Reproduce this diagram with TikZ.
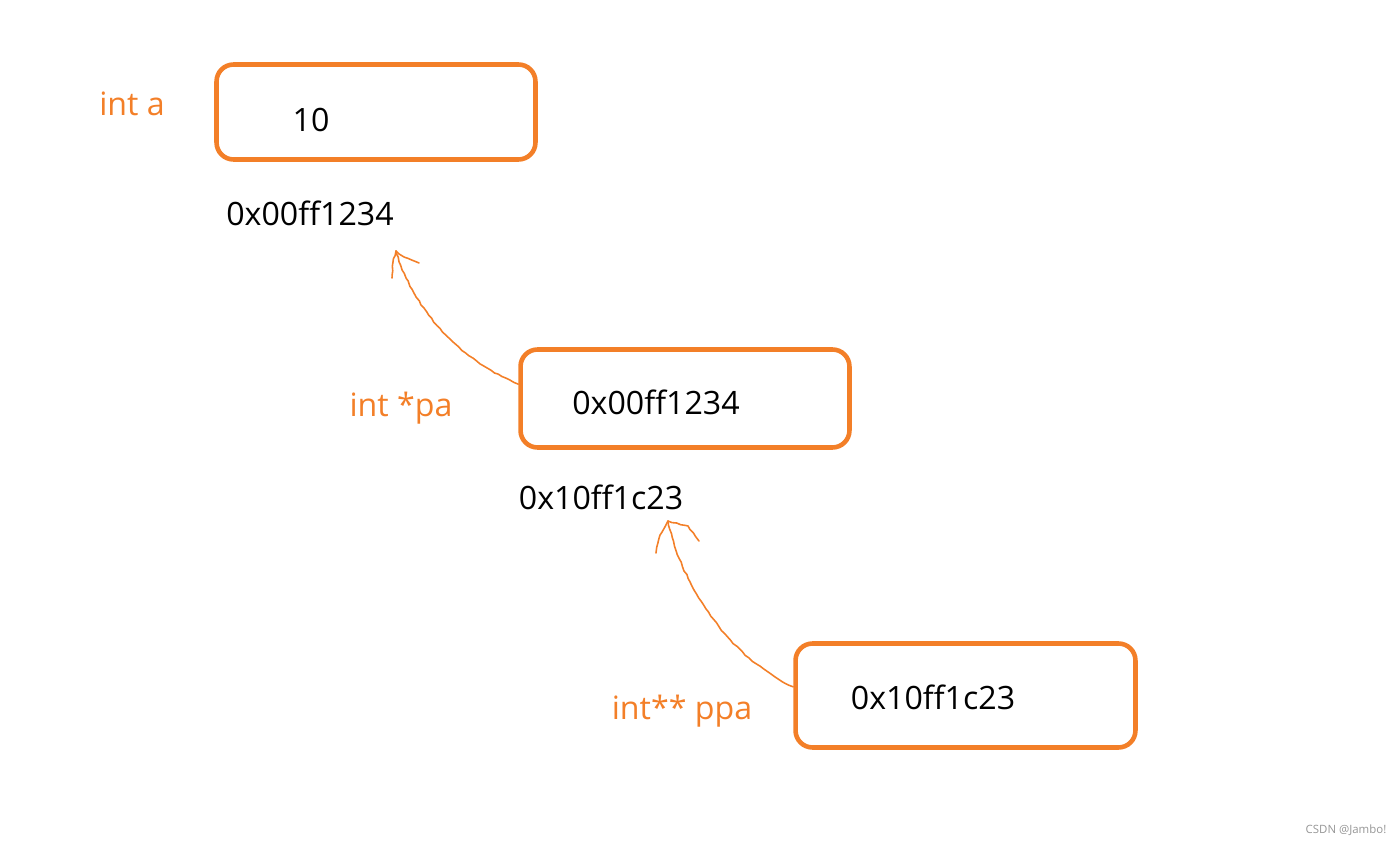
\documentclass[tikz,border=0pt]{standalone}
\usepackage{fontspec}
\setmainfont{Open Sans}
\usetikzlibrary{calc,decorations.pathmorphing}
\definecolor{PtrOrange}{RGB}{243,127,40}
\definecolor{MarkGray}{RGB}{150,150,150}
\tikzset{
  cell/.style={draw=PtrOrange,line width=2.6pt,rounded corners=0.34cm,fill=white},
  val/.style={inner sep=0pt,font=\fontsize{18.3}{22}\selectfont},
  typ/.style={inner sep=0pt,text=PtrOrange,font=\fontsize{18.3}{22}\selectfont},
  hand/.style={draw=PtrOrange,line width=0.9pt,line cap=round,line join=round,
    decorate,decoration={random steps,segment length=2.5pt,amplitude=0.35pt}},
}

\begin{document}
\begin{tikzpicture}[x=0.02cm,y=-0.02cm]
\useasboundingbox (0,0) rectangle (1400,844);
% boxes
\node[cell,minimum width=6.38cm,minimum height=1.9cm] (a) at (376,112) {};
\node[cell,minimum width=6.58cm,minimum height=1.96cm] (pa) at (685,398.5) {};
\node[cell,minimum width=6.8cm,minimum height=2.08cm] (ppa) at (965.5,695.5) {};
% values
\node[val] (vala) at (311,120) {10};
\node[val] (valpa) at (656,402) {0x00ff1234};
\node[val] (valppa) at (933,697) {0x10ff1c23};
% addresses
\node[val] (addra) at (310,213) {0x00ff1234};
\node[val] (addrpa) at (601,497) {0x10ff1c23};
% types
\node[typ] (laba) at (132,104) {int a};
\node[typ] (labpa) at (401,408) {int *pa};
\node[typ] (labppa) at (682,711) {int** ppa};
% hand drawn arrows
\coordinate (tipa) at (396,251);
\coordinate (tippa) at (668,521);
\draw[hand] ($(pa.north west)!0.36!(pa.south west)$) .. controls (450,355) and (410,300) .. (tipa);
\draw[hand] (tipa) -- (393,262) -- (392,278);
\draw[hand] (tipa) -- (404,257) -- (419,263);
\draw[hand] ($(ppa.north west)!0.42!(ppa.south west)$) .. controls (725,655) and (680,580) .. (tippa);
\draw[hand] (tippa) -- (660,535) -- (656,553);
\draw[hand] (tippa) -- (688,526) -- (699,541);
\node[inner sep=0pt,text=MarkGray,font=\fontsize{6.5}{8}\selectfont] (mark) at (1346,830) {CSDN @Jambo!};
\end{tikzpicture}
\end{document}
